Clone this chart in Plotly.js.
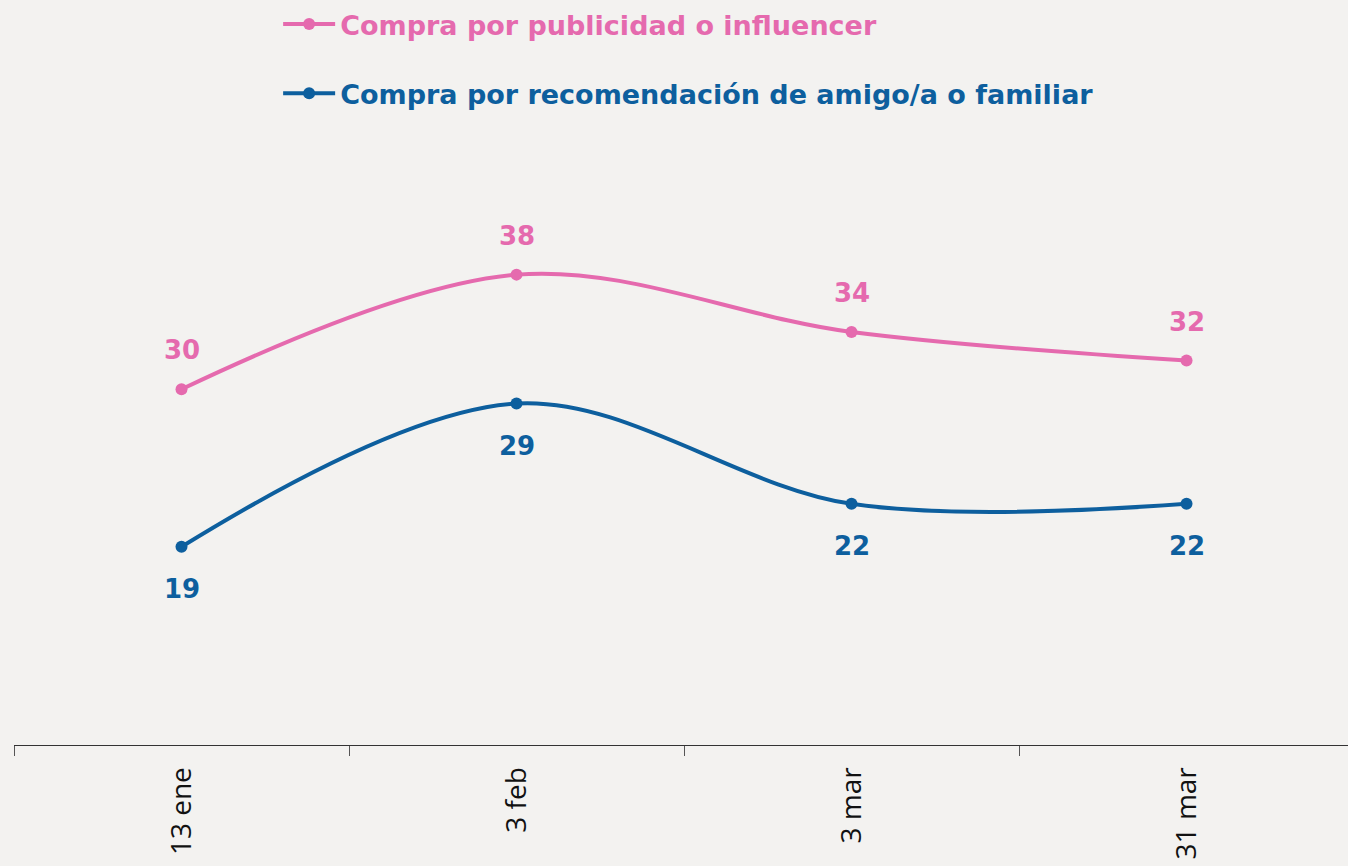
<!DOCTYPE html>
<html>
<head>
<meta charset="utf-8">
<script src="https://cdn.plot.ly/plotly-3.0.1.min.js"></script>
<style>
html,body{margin:0;padding:0;background:#f3f2f0;}
#chart{width:1348px;height:866px;}
</style>
</head>
<body>
<div id="chart"></div>
<script>
const categories = ["13 ene", "3 feb", "3 mar", "31 mar"];
const seriesNames = ["Compra por publicidad o influencer", "Compra por recomendación de amigo/a o familiar"];
const influencer = [30, 38, 34, 32];
const recomendacion = [19, 29, 22, 22];

const pink = "#e56aae";
const blue = "#0d5f9e";
const labelFont = "DejaVu Sans, sans-serif";

function trace(name, vals, color, group) {
  return {
    type: "scatter",
    mode: "lines+markers",
    name: name,
    x: categories,
    y: vals,
    legendgroup: group,
    line: {color: color, width: 4, shape: "spline", smoothing: 1},
    marker: {color: color, size: 12},
    hoverinfo: "skip"
  };
}

const data = [
  trace(seriesNames[0], influencer, pink, "a"),
  trace(seriesNames[1], recomendacion, blue, "b")
];

const annotations = [];
categories.forEach((c, i) => {
  annotations.push({x: c, y: influencer[i], xref: "x", yref: "y", text: String(influencer[i]),
    showarrow: false, yshift: 39, font: {family: labelFont, size: 26, color: pink, weight: 700}});
  annotations.push({x: c, y: recomendacion[i], xref: "x", yref: "y", text: String(recomendacion[i]),
    showarrow: false, yshift: -42, font: {family: labelFont, size: 26, color: blue, weight: 700}});
});

const layout = {
  width: 1348,
  height: 866,
  margin: {l: 14, r: 0, t: 149, b: 121},
  paper_bgcolor: "#f3f2f0",
  plot_bgcolor: "#f3f2f0",
  showlegend: true,
  legend: {
    x: 0.198, xanchor: "left", y: 1.255, yanchor: "top",
    orientation: "v", traceorder: "grouped", tracegroupgap: 31,
    itemwidth: 52,
    font: {family: labelFont, size: 27, weight: 700},
    bgcolor: "rgba(0,0,0,0)"
  },
  xaxis: {
    type: "category",
    range: [-0.5, 3.482],
    showline: true, linecolor: "#333", linewidth: 1,
    ticks: "outside", tickson: "boundaries", ticklen: 10, tickcolor: "#555", tickwidth: 1,
    tickangle: -90, ticklabelstandoff: 10,
    tickfont: {family: "Open Sans, sans-serif", size: 28, color: "#111"},
    showgrid: false, zeroline: false, fixedrange: true
  },
  yaxis: {visible: false, range: [5.165, 46.63], fixedrange: true},
  annotations: annotations
};

Plotly.newPlot("chart", data, layout, {displayModeBar: false, staticPlot: true}).then(() => {
  const texts = document.querySelectorAll(".legendtext");
  const cols = [pink, blue];
  texts.forEach((t, i) => { t.style.fill = cols[i]; });
});
</script>
</body>
</html>
